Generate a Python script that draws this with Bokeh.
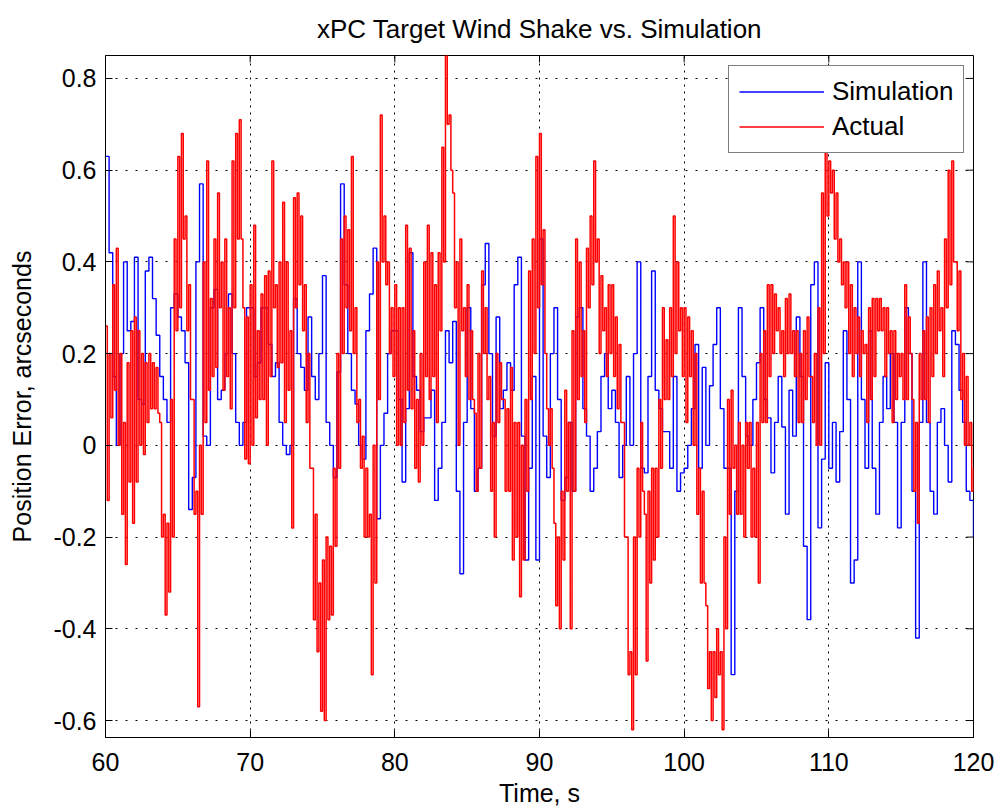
import numpy as np
from bokeh.plotting import figure
from bokeh.models import Range1d, FixedTicker, Legend, LegendItem
from bokeh.embed import file_html
from bokeh.resources import INLINE

# ---- data (one sample every 0.25 s from t = 60 s) ----
t_start = 60.0
t_step = 0.25

simulation = [
    0.63, 0.42, 0.15, 0.0, 0.2, 0.4, 0.25, 0.27, 0.41, 0.1,
    0.09, 0.38, 0.41, 0.32, 0.24, 0.15, 0.1, 0.05, 0.3, 0.33,
    0.28, 0.25, 0.18, -0.14, -0.07, 0.4, 0.57, 0.02, 0.0, 0.3,
    0.34, 0.1, 0.12, 0.2, 0.33, 0.2, 0.05, 0.0, 0.05, 0.3,
    0.3, 0.15, 0.18, 0.3, 0.3, 0.22, 0.15, 0.18, 0.05, 0.0,
    -0.02, 0.0, 0.32, 0.2, 0.17, 0.12, 0.28, 0.15, 0.1, 0.2,
    0.37, 0.05, 0.0, -0.07, 0.16, 0.57, 0.35, 0.2, 0.12, 0.09,
    0.0, -0.03, 0.25, 0.33, 0.43, -0.16, 0.0, 0.07, 0.2, 0.25,
    0.25, 0.1, -0.08, 0.08, 0.42, 0.15, 0.12, 0.03, 0.06, 0.06,
    0.12, -0.12, -0.05, 0.05, 0.25, 0.18, 0.27, -0.1, -0.28, 0.05,
    0.3, 0.08, -0.1, -0.05, 0.35, 0.44, 0.2, 0.02, 0.28, 0.08,
    0.12, 0.18, 0.12, 0.35, 0.41, 0.02, -0.25, -0.05, 0.15, -0.25,
    0.45, 0.02, -0.07, 0.2, 0.3, 0.1, -0.12, -0.07, 0.05, -0.1,
    0.28, 0.3, 0.08, 0.02, -0.1, -0.05, 0.03, 0.15, 0.2, 0.08,
    0.12, 0.05, -0.07, 0.0, 0.15, 0.0, 0.2, 0.4, -0.05, -0.06,
    0.15, 0.38, 0.12, 0.08, 0.03, 0.03, -0.05, 0.15, -0.1, -0.06,
    -0.05, 0.0, 0.08, 0.22, -0.05, 0.17, 0.0, 0.13, 0.22, 0.3,
    0.08, -0.05, -0.05, -0.5, -0.1, 0.3, 0.15, 0.02, 0.0, 0.1,
    0.18, 0.3, 0.1, 0.06, -0.06, 0.05, 0.15, 0.04, -0.15, 0.12,
    0.02, 0.28, 0.15, -0.22, -0.38, 0.35, 0.4, -0.18, -0.03, 0.18,
    -0.05, 0.05, -0.08, 0.03, 0.25, 0.1, -0.3, -0.25, 0.4, 0.1,
    -0.05, 0.25, -0.05, -0.15, 0.05, 0.15, 0.08, 0.2, 0.05, -0.18,
    0.05, 0.3, 0.2, -0.1, -0.42, 0.05, 0.4, 0.05, -0.1, -0.15,
    0.05, 0.08, 0.0, -0.08, 0.25, 0.22, 0.12, 0.05, -0.1, -0.12, -0.2,
]

# "Actual" is a fast-oscillating trace: upper and lower values within each 0.25 s
actual_high = [
    0.26, 0.2, 0.35, 0.43, 0.2, 0.05, 0.18, 0.25, 0.28, 0.25,
    0.2, 0.18, 0.2, 0.18, 0.17, 0.05, -0.15, -0.17, 0.1, 0.45,
    0.63, 0.68, 0.5, 0.35, 0.1, -0.1, 0.0, 0.4, 0.62, 0.32,
    0.45, 0.55, 0.4, 0.45, 0.3, 0.62, 0.68, 0.71, 0.3, 0.28,
    0.35, 0.48, 0.25, 0.33, 0.37, 0.38, 0.62, 0.35, 0.4, 0.53,
    0.4, 0.25, 0.54, 0.55, 0.5, 0.35, 0.2, -0.05, -0.15, -0.3,
    -0.25, -0.2, -0.22, -0.05, 0.2, 0.45, 0.5, 0.47, 0.63, 0.3,
    0.1, 0.02, -0.05, -0.15, 0.0, 0.4, 0.72, 0.5, 0.4, 0.3,
    0.35, 0.3, 0.3, 0.48, 0.43, 0.25, 0.1, 0.2, 0.4, 0.48,
    0.42, 0.35, 0.42, 0.65, 0.86, 0.72, 0.55, 0.4, 0.45, 0.3,
    0.35, 0.25, 0.07, 0.2, 0.38, 0.3, 0.15, 0.05, 0.2, 0.18,
    0.1, 0.08, 0.17, 0.05, 0.05, 0.0, 0.1, 0.38, 0.45, 0.63,
    0.68, 0.47, 0.08, 0.08, -0.17, -0.2, -0.1, 0.12, 0.05, 0.25,
    0.45, 0.4, 0.25, 0.43, 0.5, 0.62, 0.45, 0.37, 0.3, 0.35,
    0.35, 0.28, 0.22, 0.05, -0.2, -0.45, -0.2, -0.05, 0.05, -0.15,
    -0.1, -0.05, -0.05, 0.1, 0.3, 0.23, 0.3, 0.5, 0.4, 0.3,
    0.3, 0.28, 0.25, 0.2, -0.05, -0.1, -0.35, -0.45, -0.45, -0.4,
    -0.45, -0.2, 0.1, 0.12, 0.0, 0.05, 0.0, 0.05, 0.05, -0.05,
    0.05, 0.2, 0.25, 0.35, 0.35, 0.33, 0.3, 0.25, 0.32, 0.33,
    0.25, 0.25, 0.2, 0.25, 0.28, 0.15, 0.2, 0.3, 0.55, 0.65,
    0.62, 0.6, 0.55, 0.45, 0.4, 0.4, 0.35, 0.3, 0.28, 0.25,
    0.22, 0.3, 0.32, 0.32, 0.32, 0.3, 0.3, 0.25, 0.25, 0.2,
    0.2, 0.35, 0.28, 0.1, 0.05, 0.2, 0.25, 0.28, 0.3, 0.35,
    0.38, 0.3, 0.45, 0.6, 0.62, 0.4, 0.38, 0.2, 0.15, 0.05, -0.05,
]

actual_low = [
    -0.12, 0.06, 0.12, 0.0, -0.15, -0.26, -0.08, -0.17, -0.08, 0.0,
    -0.02, 0.05, 0.08, 0.08, 0.07, -0.2, -0.37, -0.32, -0.2, 0.25,
    0.3, 0.45, 0.25, 0.1, -0.15, -0.57, -0.15, 0.05, 0.12, 0.15,
    0.17, 0.3, 0.12, 0.15, 0.08, 0.3, 0.45, 0.45, -0.03, -0.04,
    0.0, 0.06, 0.1, 0.1, 0.0, 0.15, 0.3, 0.17, 0.18, 0.05,
    0.12, -0.18, 0.3, 0.35, 0.25, 0.05, -0.05, -0.38, -0.45, -0.58,
    -0.6, -0.38, -0.37, -0.22, -0.05, 0.2, 0.3, 0.25, 0.2, 0.05,
    -0.05, -0.2, -0.2, -0.5, -0.3, 0.1, 0.4, 0.35, 0.2, 0.15,
    0.0, 0.0, 0.05, 0.12, 0.08, -0.05, -0.08, 0.0, 0.15, 0.1,
    0.15, 0.05, 0.25, 0.4, 0.7, 0.6, 0.3, 0.0, 0.25, 0.15,
    0.1, 0.1, -0.1, -0.05, 0.2, 0.1, -0.1, -0.2, 0.05, 0.1,
    -0.1, -0.1, -0.25, -0.2, -0.33, -0.25, -0.1, 0.1, 0.2, 0.3,
    0.35, 0.2, 0.0, -0.05, -0.35, -0.4, -0.25, -0.1, -0.4, -0.1,
    0.1, 0.15, 0.05, 0.3, 0.35, 0.4, 0.2, 0.25, 0.15, 0.2,
    0.15, 0.08, 0.05, -0.2, -0.5, -0.62, -0.5, -0.2, -0.1, -0.47,
    -0.3, -0.25, -0.2, -0.05, 0.1, 0.1, 0.15, 0.2, 0.25, 0.15,
    0.05, 0.15, 0.0, -0.15, -0.3, -0.3, -0.53, -0.6, -0.55, -0.5,
    -0.62, -0.4, -0.15, -0.05, -0.15, -0.15, -0.2, -0.05, -0.2, -0.2,
    -0.3, 0.05, 0.05, 0.15, 0.2, 0.25, 0.2, 0.15, 0.2, 0.2,
    0.15, 0.05, 0.05, 0.1, 0.15, 0.05, 0.0, 0.0, 0.2, 0.5,
    0.55, 0.45, 0.4, 0.35, 0.3, 0.2, 0.15, 0.2, 0.15, 0.2,
    0.05, 0.1, 0.15, 0.25, 0.25, 0.15, 0.2, 0.05, 0.1, 0.15,
    0.1, 0.1, 0.2, -0.1, -0.17, 0.1, 0.1, 0.05, 0.15, 0.2,
    0.25, 0.15, 0.3, 0.35, 0.4, 0.25, 0.1, 0.0, 0.0, -0.1, -0.26,
]

title_text = "xPC Target Wind Shake vs. Simulation"
x_ticks = [60, 70, 80, 90, 100, 110, 120]
y_ticks = [-0.6, -0.4, -0.2, 0.0, 0.2, 0.4, 0.6, 0.8]
y_tick_labels = ["-0.6", "-0.4", "-0.2", "0", "0.2", "0.4", "0.6", "0.8"]

# ---- build series ----
t_sim = t_start + t_step * np.arange(len(simulation))
n = len(actual_high)
t_base = t_start + t_step * np.arange(n)
t_act = np.empty(2 * n)
v_act = np.empty(2 * n)
t_act[0::2] = t_base
t_act[1::2] = t_base + t_step / 2
v_act[0::2] = actual_high
v_act[1::2] = actual_low

FONT = "Liberation Sans"
X0, X1 = 60, 120
Y0, Y1 = -0.637, 0.85
FRAME_W, FRAME_H = 868, 686
TICK_PX = 7
px_y = (Y1 - Y0) / FRAME_H
px_x = (X1 - X0) / FRAME_W

p = figure(
    width=996, height=809, output_backend="svg", toolbar_location=None,
    x_range=Range1d(X0, X1), y_range=Range1d(Y0, Y1),
    min_border_left=105, min_border_right=23, min_border_top=52, min_border_bottom=71,
    background_fill_color="white", border_fill_color="white",
)
p.outline_line_color = "black"
p.outline_line_width = 1

p.title.text = title_text
p.title.align = "center"
p.title.text_font = FONT
p.title.text_font_size = "26px"
p.title.text_font_style = "normal"
p.title.text_color = "black"
p.title.standoff = 23

# axes
p.xaxis.ticker = FixedTicker(ticks=x_ticks)
p.yaxis.ticker = FixedTicker(ticks=y_ticks)
p.yaxis.major_label_overrides = {v: s for v, s in zip(y_ticks, y_tick_labels)}
p.xaxis.axis_label = "Time, s"
p.yaxis.axis_label = "Position Error, arcseconds"
for ax in (p.xaxis[0], p.yaxis[0]):
    ax.major_tick_in = TICK_PX
    ax.major_tick_out = 0
    ax.minor_tick_line_color = None
    ax.axis_line_color = "black"
    ax.major_tick_line_color = "black"
    ax.major_label_text_font = FONT
    ax.major_label_text_font_size = "25px"
    ax.major_label_text_color = "black"
    ax.axis_label_text_font = FONT
    ax.axis_label_text_font_size = "25px"
    ax.axis_label_text_font_style = "normal"
    ax.axis_label_text_color = "black"
p.yaxis.major_label_standoff = 9
p.yaxis.axis_label_standoff = 14
p.xaxis.major_label_standoff = 15
p.xaxis.axis_label_standoff = 5
p.xaxis.major_label_text_line_height = 1.0
p.xaxis.axis_label_text_line_height = 1.0

# inward ticks on the top and right edges of the box
p.segment(x0=x_ticks, y0=[Y1] * len(x_ticks), x1=x_ticks, y1=[Y1 - TICK_PX * px_y] * len(x_ticks),
          line_color="black", line_width=1)
p.segment(x0=[X1] * len(y_ticks), y0=y_ticks, x1=[X1 - TICK_PX * px_x] * len(y_ticks), y1=y_ticks,
          line_color="black", line_width=1)

# grid
p.xgrid.ticker = FixedTicker(ticks=x_ticks)
p.ygrid.ticker = FixedTicker(ticks=y_ticks)
p.xgrid.grid_line_color = "black"
p.ygrid.grid_line_color = "black"
p.xgrid.grid_line_dash = "2 5"
p.ygrid.grid_line_dash = "2 8"
p.xgrid.grid_line_width = 1
p.ygrid.grid_line_width = 1

# series
r_sim = p.step(t_sim, simulation, mode="after", line_color="#0000ff", line_width=1.4)
r_act = p.step(t_act, v_act, mode="after", line_color="#ff0000", line_width=1.5)

legend = Legend(
    items=[LegendItem(label="Simulation", renderers=[r_sim]),
           LegendItem(label="Actual", renderers=[r_act])],
    location=(623, 584), orientation="vertical",
)
legend.label_text_font = FONT
legend.label_text_font_size = "26px"
legend.label_text_color = "black"
legend.glyph_width = 85
legend.glyph_height = 25
legend.label_height = 25
legend.label_standoff = 8
legend.padding = 10
legend.spacing = 4
legend.margin = 0
legend.border_line_color = "black"
legend.border_line_width = 1
legend.background_fill_color = "white"
legend.background_fill_alpha = 1.0
p.add_layout(legend)

open("out.html", "w").write(file_html(p, INLINE))
